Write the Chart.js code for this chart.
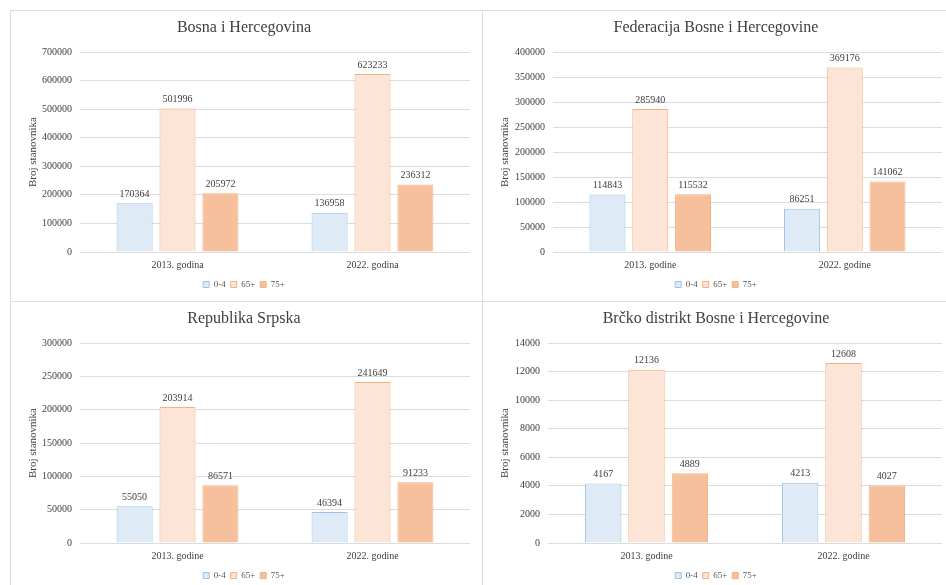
<!DOCTYPE html>
<html>
<head>
<meta charset="utf-8">
<script src="https://cdn.jsdelivr.net/npm/chart.js@4"></script>
<style>
    html, body { margin: 0; padding: 0; background: #fff; }
    body { width: 946px; height: 585px; overflow: hidden; position: relative; }
    canvas { position: absolute; }
    .line { position: absolute; background: #dedede; }
</style>
</head>
<body>
<div class="line" style="left:10px; top:10px; width:936px; height:1px;"></div>
<div class="line" style="left:10px; top:10px; width:1px; height:575px;"></div>
<div class="line" style="left:482px; top:10px; width:1px; height:575px;"></div>
<div class="line" style="left:10px; top:301px; width:936px; height:1px;"></div>

<canvas id="bih" width="472" height="292" style="left:10px; top:10px;"></canvas>
<canvas id="fbih" width="472" height="292" style="left:482px; top:10px;"></canvas>
<canvas id="rs" width="472" height="292" style="left:10px; top:301px;"></canvas>
<canvas id="brcko" width="472" height="292" style="left:482px; top:301px;"></canvas>

<script>
// Categories and series names
const yearsBih = ['2013. godina', '2022. godina'];
const yearsOther = ['2013. godine', '2022. godine'];
const ageGroups = ['0-4', '65+', '75+'];

// Bosna i Hercegovina
const bihAge04 = [170364, 136958];
const bihAge65 = [501996, 623233];
const bihAge75 = [205972, 236312];

// Federacija Bosne i Hercegovine
const fbihAge04 = [114843, 86251];
const fbihAge65 = [285940, 369176];
const fbihAge75 = [115532, 141062];

// Republika Srpska
const rsAge04 = [55050, 46394];
const rsAge65 = [203914, 241649];
const rsAge75 = [86571, 91233];

// Brčko distrikt
const brckoAge04 = [4167, 4213];
const brckoAge65 = [12136, 12608];
const brckoAge75 = [4889, 4027];

// y axis: min, max and step of tick labels for each panel
const bihTicks = [0, 700000, 100000];
const fbihTicks = [0, 400000, 50000];
const rsTicks = [0, 300000, 50000];
const brckoTicks = [0, 14000, 2000];

const fillColors = ['#deebf7', '#fce4d6', '#f6c09c'];
const edgeColors = ['#9dc3e6', '#f4b183', '#f4b183'];
const serif = '"Liberation Serif", "Times New Roman", serif';

// draws the value above each bar
const valueLabels = {
    id: 'valueLabels',
    afterDatasetsDraw(chart) {
        const ctx = chart.ctx;
        ctx.save();
        ctx.font = '10px ' + serif;
        ctx.fillStyle = '#404040';
        ctx.textAlign = 'center';
        ctx.textBaseline = 'middle';
        chart.data.datasets.forEach((ds, i) => {
            chart.getDatasetMeta(i).data.forEach((bar, j) => {
                ctx.fillText(ds.data[j], bar.x, bar.y - 9);
            });
        });
        ctx.restore();
    }
};

function drawPanel(id, title, years, series, ticks, axisWidth) {
    const ctx = document.getElementById(id).getContext('2d');
    new Chart(ctx, {
        type: 'bar',
        data: {
            labels: years,
            datasets: series.map((values, i) => ({
                label: ageGroups[i],
                data: values,
                backgroundColor: fillColors[i],
                borderColor: edgeColors[i],
                borderWidth: 1,
                categoryPercentage: 0.66,
                barPercentage: 0.84
            }))
        },
        options: {
            responsive: false,
            animation: false,
            devicePixelRatio: 1,
            layout: { padding: { left: 8, right: 12, top: 0, bottom: 3 } },
            plugins: {
                title: {
                    display: true,
                    text: title,
                    color: '#404040',
                    font: { family: serif, size: 16, weight: 'normal', lineHeight: 1.2 },
                    padding: { top: 8, bottom: 14.8 }
                },
                legend: {
                    position: 'bottom',
                    labels: {
                        boxWidth: 6,
                        boxHeight: 6,
                        padding: 5,
                        color: '#595959',
                        font: { family: serif, size: 9 }
                    }
                },
                tooltip: { enabled: false }
            },
            scales: {
                x: {
                    grid: { display: false, drawTicks: false },
                    border: { display: false },
                    ticks: { color: '#404040', padding: 7, font: { family: serif, size: 10 } },
                    afterFit(scale) { scale.height = 23; }
                },
                y: {
                    min: ticks[0],
                    max: ticks[1],
                    grid: { color: '#dcdcdc', drawTicks: false },
                    border: { display: false },
                    ticks: {
                        stepSize: ticks[2],
                        padding: 8,
                        color: '#404040',
                        font: { family: serif, size: 10 },
                        callback: value => value
                    },
                    title: {
                        display: true,
                        text: 'Broj stanovnika',
                        color: '#404040',
                        font: { family: serif, size: 11, lineHeight: 1.2 },
                        padding: { top: 9, bottom: 3 }
                    },
                    afterFit(scale) { scale.width = axisWidth; }
                }
            }
        },
        plugins: [valueLabels]
    });
}

drawPanel('bih', 'Bosna i Hercegovina', yearsBih, [bihAge04, bihAge65, bihAge75], bihTicks, 62);
drawPanel('fbih', 'Federacija Bosne i Hercegovine', yearsOther, [fbihAge04, fbihAge65, fbihAge75], fbihTicks, 63);
drawPanel('rs', 'Republika Srpska', yearsOther, [rsAge04, rsAge65, rsAge75], rsTicks, 62);
drawPanel('brcko', 'Brčko distrikt Bosne i Hercegovine', yearsOther, [brckoAge04, brckoAge65, brckoAge75], brckoTicks, 58);
</script>
</body>
</html>
